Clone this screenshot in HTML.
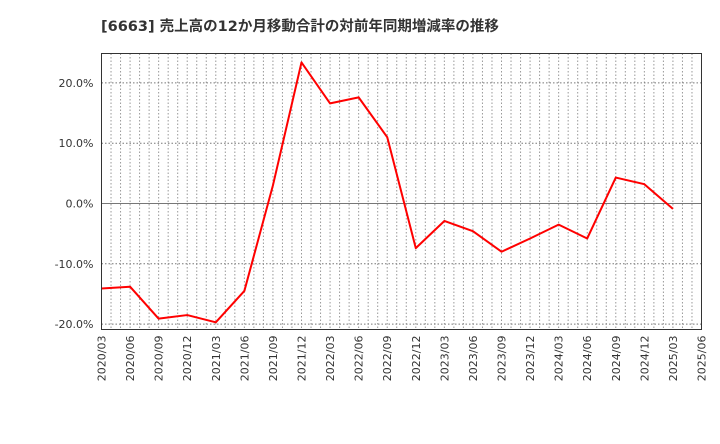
<!DOCTYPE html>
<html><head><meta charset="utf-8"><style>
body{margin:0;background:#fff;font-family:"DejaVu Sans","Noto Sans CJK JP",sans-serif;}
</style></head><body>
<svg width="720" height="440" xmlns="http://www.w3.org/2000/svg" font-family="DejaVu Sans, Noto Sans CJK JP, sans-serif">
<text x="101" y="31" font-size="14.5" font-weight="bold" fill="#333">[6663]  売上高の12か月移動合計の対前年同期増減率の推移</text>
<g id="grid"></g>
<g id="yaxis"></g>
<g id="xaxis"></g>
<g id="series"></g>
<rect x="101.5" y="53.5" width="600" height="276" fill="none" stroke="#333" stroke-width="1"/>
</svg>
<script>
const xLabels=["2020/03","2020/06","2020/09","2020/12","2021/03","2021/06","2021/09","2021/12","2022/03","2022/06","2022/09","2022/12","2023/03","2023/06","2023/09","2023/12","2024/03","2024/06","2024/09","2024/12","2025/03","2025/06"];
const values=[-14.1,-13.8,-19.1,-18.5,-19.7,-14.5,3.0,23.4,16.6,17.6,11.0,-7.4,-2.9,-4.6,-8.0,-5.8,-3.5,-5.8,4.3,3.2,-0.9];
const yTicks=[20,10,0,-10,-20];
const yTickLabels=["20.0%","10.0%","0.0%","-10.0%","-20.0%"];
const NS="http://www.w3.org/2000/svg";
const L=101.5,R=701.5,T=53.5,B=329.5;
const xs=i=>L+i*(R-L)/(xLabels.length-1);
const ys=v=>203.5-v*6.03;
function mk(t,a,p){const e=document.createElementNS(NS,t);for(const k in a)e.setAttribute(k,a[k]);p.appendChild(e);return e;}
const grid=document.getElementById('grid'),ya=document.getElementById('yaxis'),xa=document.getElementById('xaxis'),se=document.getElementById('series');
const months=(xLabels.length-1)*3;
for(let m=1;m<months;m++){const x=L+m*(R-L)/months;
const g=mk('line',{x1:x,x2:x,y1:T,y2:B,stroke:'#999','stroke-dasharray':'1.5,2','stroke-width':1},grid);

}
yTicks.forEach((v,i)=>{const y=ys(v);
const g=mk('line',{x1:L,x2:R,y1:y,y2:y,stroke:'#777','stroke-dasharray':v===0?'none':'1.5,2','stroke-width':1},grid);


const t=mk('text',{x:L-8,y:y+4,'text-anchor':'end','font-size':11,fill:'#333'},ya);t.textContent=yTickLabels[i];

});
xLabels.forEach((s,i)=>{const x=xs(i);
const t=mk('text',{x:0,y:0,transform:`translate(${x+4},${B+6}) rotate(-90)`,'text-anchor':'end','font-size':11,fill:'#333'},xa);t.textContent=s;

});
const p=mk('polyline',{points:values.map((v,i)=>xs(i)+','+ys(v)).join(' '),fill:'none',stroke:'#f00','stroke-width':2,'stroke-linejoin':'round'},se);


</script>
</body></html>
